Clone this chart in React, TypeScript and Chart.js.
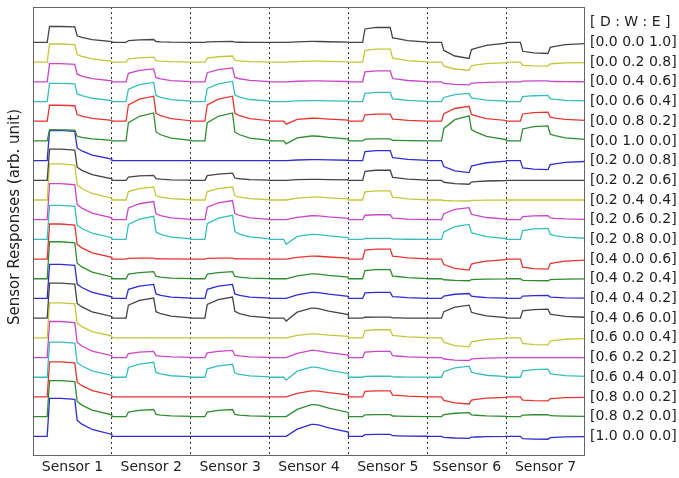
import React, { useEffect, useRef } from 'react';
import { Chart, registerables } from 'chart.js';

Chart.register(...registerables);

// ---- categories / tick labels ----
const SENSOR_LABELS = ['Sensor 1', 'Sensor 2', 'Sensor 3', 'Sensor 4', 'Sensor 5', 'Ssensor 6', 'Sensor 7'];
const Y_TITLE = 'Sensor Responses (arb. unit)';
const MIXTURE_HEADER = '[ D : W : E ]';
const MIXTURE_LABELS = [
  '[0.0 0.0 1.0]', '[0.0 0.2 0.8]', '[0.0 0.4 0.6]', '[0.0 0.6 0.4]', '[0.0 0.8 0.2]', '[0.0 1.0 0.0]',
  '[0.2 0.0 0.8]', '[0.2 0.2 0.6]', '[0.2 0.4 0.4]', '[0.2 0.6 0.2]', '[0.2 0.8 0.0]',
  '[0.4 0.0 0.6]', '[0.4 0.2 0.4]', '[0.4 0.4 0.2]', '[0.4 0.6 0.0]',
  '[0.6 0.0 0.4]', '[0.6 0.2 0.2]', '[0.6 0.4 0.0]',
  '[0.8 0.0 0.2]', '[0.8 0.2 0.0]',
  '[1.0 0.0 0.0]',
];
const TRACE_COLORS = ['#454545', '#c6c63c', '#c946c9', '#38bdbd', '#e5352f', '#2f8c2f', '#2d2dd2'];

// ---- pulse key points within one sensor window (fraction of window) ----
const PULSE_PHASE = [0, 0.18, 0.21, 0.35, 0.53, 0.56, 0.62, 0.75, 1.0];
// relative response level at each key point, per sensor
const SHAPE_S1 = [0, 0, 1.0, 1.0, 0.97, 0.42, 0.32, 0.18, 0.05];
const SHAPE_S2 = [0, 0, 0.65, 0.88, 1.0, 0.32, 0.22, 0.1, 0.02];
const SHAPE_S3 = [0, 0, 0.65, 0.88, 1.0, 0.32, 0.22, 0.1, 0.02];
const SHAPE_S4 = [0, 0, 0, 0.6, 1.0, 1.0, 0.95, 0.7, 0.35];
const SHAPE_S5 = [0, 0, 0.9, 1.0, 1.0, 0.3, 0.25, 0.12, 0.02];
const SHAPE_S6 = [0, 0, 0.5, 0.85, 1.0, 0.45, 0.35, 0.18, 0.05];
const SHAPE_S7 = [0, 0, 0.8, 0.95, 1.0, 0.45, 0.35, 0.2, 0.1];

// ---- response amplitude of each mixture (top to bottom) per sensor, arb. units ----
const AMP_S1 = [0.81, 0.92, 0.92, 0.92, 0.81, 0.56, 1.53, 1.58, 1.83, 1.83, 1.73, 1.78, 1.88, 1.73, 1.78, 1.78, 1.83, 1.78, 1.78, 1.83, 1.93];
const AMP_S2 = [0.15, 0.25, 0.66, 0.97, 1.27, 1.42, 0, 0.25, 0.66, 0.92, 1.17, 0.05, 0.36, 0.71, 1.02, 0, 0.31, 0.76, 0, 0.36, 0];
const AMP_S3 = [0.05, 0.31, 0.71, 1.02, 1.27, 1.42, 0, 0.36, 0.66, 0.97, 1.22, 0.05, 0.36, 0.71, 1.07, 0, 0.36, 0.66, 0, 0.36, 0];
const AMP_S4 = [0.05, 0.05, 0.05, 0.05, 0.15, 0.25, 0.05, 0.05, 0.15, 0.2, 0.25, 0.15, 0.25, 0.31, 0.51, 0.2, 0.36, 0.51, 0.31, 0.61, 0.61];
const AMP_S5 = [0.76, 0.66, 0.56, 0.46, 0.36, 0.1, 0.51, 0.51, 0.46, 0.25, 0.05, 0.51, 0.46, 0.31, 0.05, 0.41, 0.31, 0.05, 0.31, 0.1, 0.1];
const AMP_S6 = [-0.81, -0.41, -0.15, 0.41, 0.76, 1.27, -0.61, -0.2, -0.05, 0.61, 0.76, -0.56, -0.1, 0.25, 0.66, -0.46, -0.15, 0.56, -0.36, 0.2, -0.1];
const AMP_S7 = [-0.56, -0.2, 0.05, 0.31, 0.46, 0.76, -0.46, 0, 0, 0.2, 0.56, -0.51, -0.1, 0.15, 0.46, -0.36, 0, 0.41, -0.2, 0.1, -0.15];
// small dip at the start of the Sensor 4 window
const DIP_S4 = [0, 0, 0, 0, 0.15, 0.15, 0, 0, 0, 0, 0.25, 0, 0, 0, 0.15, 0, 0, 0.15, 0, 0, 0];

const SHAPES = [SHAPE_S1, SHAPE_S2, SHAPE_S3, SHAPE_S4, SHAPE_S5, SHAPE_S6, SHAPE_S7];
const AMPS = [AMP_S1, AMP_S2, AMP_S3, AMP_S4, AMP_S5, AMP_S6, AMP_S7];
const WINDOW = 100;
const Y_MAX = 22.8;

function buildDatasets() {
  const n = MIXTURE_LABELS.length;
  return MIXTURE_LABELS.map((label, i) => {
    const offset = n - i;
    const pts: { x: number; y: number }[] = [];
    SENSOR_LABELS.forEach((_, s) => {
      PULSE_PHASE.forEach((p, k) => {
        const dip = s === 3 && k === 2 ? DIP_S4[i] : 0;
        pts.push({ x: s * WINDOW + p * WINDOW, y: offset + AMPS[s][i] * SHAPES[s][k] - dip });
      });
    });
    return {
      label,
      data: pts,
      borderColor: TRACE_COLORS[i % TRACE_COLORS.length],
      borderWidth: 1.3,
      pointRadius: 0,
      tension: 0,
      fill: false,
    };
  });
}

const framePlugin = {
  id: 'frame',
  afterDatasetsDraw(chart: any) {
    const { ctx, chartArea } = chart;
    ctx.save();
    ctx.strokeStyle = '#666';
    ctx.lineWidth = 1;
    ctx.strokeRect(chartArea.left + 0.5, chartArea.top + 0.5, chartArea.right - chartArea.left - 1, chartArea.bottom - chartArea.top - 1);
    ctx.restore();
  },
};

const yTitlePlugin = {
  id: 'yTitle',
  afterDraw(chart: any) {
    const { ctx } = chart;
    ctx.save();
    ctx.translate(15.5, 217);
    ctx.rotate(-Math.PI / 2);
    ctx.font = '15px "DejaVu Sans", sans-serif';
    ctx.fillStyle = '#222';
    ctx.textAlign = 'center';
    ctx.textBaseline = 'middle';
    ctx.fillText(Y_TITLE, 0, 0);
    ctx.restore();
  },
};

export default function App() {
  const ref = useRef<HTMLCanvasElement | null>(null);
  useEffect(() => {
    if (!ref.current) return;
    Chart.defaults.font.family = '"DejaVu Sans", sans-serif';
    Chart.defaults.color = '#222';
    const n = MIXTURE_LABELS.length;
    const chart = new Chart(ref.current, {
      type: 'line',
      data: { datasets: buildDatasets() as any },
      options: {
        animation: false,
        responsive: false,
        layout: { padding: { top: 7, left: 0, right: 0, bottom: 0 } },
        plugins: { legend: { display: false }, tooltip: { enabled: false } },
        scales: {
          x: {
            type: 'linear',
            min: 0,
            max: SENSOR_LABELS.length * WINDOW,
            afterBuildTicks: (axis: any) => {
              const t = [];
              for (let v = 0; v <= SENSOR_LABELS.length * WINDOW; v += WINDOW / 2) t.push({ value: v });
              axis.ticks = t;
            },
            afterFit: (axis: any) => { axis.height = 22; axis.paddingLeft = 0; axis.paddingRight = 0; },
            ticks: {
              autoSkip: false,
              maxRotation: 0,
              padding: 3,
              font: { size: 14 },
              color: '#222',
              callback: (v: any) => (v % WINDOW === WINDOW / 2 ? SENSOR_LABELS[Math.floor(v / WINDOW)] : ''),
            },
            grid: {
              drawTicks: false,
              lineWidth: 1,
              color: (c: any) => {
                const v = c.tick ? c.tick.value : -1;
                return v % WINDOW === 0 && v > 0 && v < SENSOR_LABELS.length * WINDOW ? '#333' : 'rgba(0,0,0,0)';
              },
            },
            border: { display: false, dash: [2, 3] },
          },
          y: {
            type: 'linear',
            position: 'left',
            min: 0,
            max: Y_MAX,
            afterFit: (axis: any) => { axis.width = 33; axis.paddingTop = 0; axis.paddingBottom = 0; },
            ticks: { display: false },
            grid: { display: false, drawTicks: false },
            border: { display: false },
          },
          y2: {
            type: 'linear',
            position: 'right',
            min: 0,
            max: Y_MAX,
            afterBuildTicks: (axis: any) => {
              const t = [];
              for (let v = n + 1; v >= 1; v--) t.push({ value: v });
              axis.ticks = t;
            },
            afterFit: (axis: any) => { axis.width = 94; axis.paddingTop = 0; axis.paddingBottom = 0; },
            ticks: {
              autoSkip: false,
              padding: 5,
              font: { size: 14 },
              color: '#222',
              callback: (v: any) => (v === n + 1 ? MIXTURE_HEADER : MIXTURE_LABELS[n - v]),
            },
            grid: { display: false, drawTicks: false },
            border: { display: false },
          },
        },
      },
      plugins: [framePlugin, yTitlePlugin],
    });
    return () => chart.destroy();
  }, []);
  return (
    <div style={{ position: 'absolute', left: 0, top: 0, width: 679, height: 478, background: '#fff' }}>
      <canvas ref={ref} width={679} height={478} style={{ display: 'block' }} />
    </div>
  );
}
